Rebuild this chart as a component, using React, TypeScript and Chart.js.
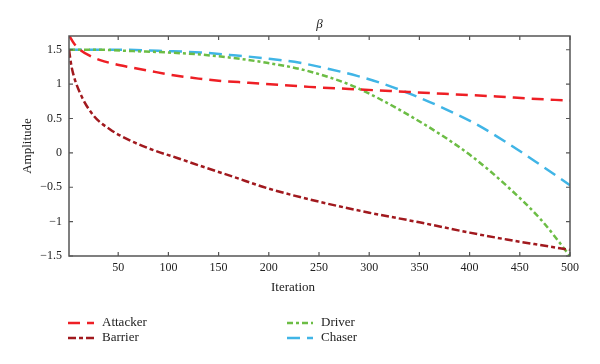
import React, { useEffect, useRef } from "react";
import { Chart, registerables } from "chart.js";

Chart.register(...registerables);

const seriesNames = ["Attacker", "Barrier", "Driver", "Chaser"];

const attackerIter = [1, 6, 12, 22, 32, 44, 60, 82, 105, 130, 150, 180, 210, 240, 280, 321, 360, 387, 427, 460, 500];
const attackerVals = [1.71, 1.59, 1.5, 1.41, 1.35, 1.3, 1.25, 1.19, 1.13, 1.08, 1.05, 1.02, 0.99, 0.96, 0.93, 0.9, 0.87, 0.85, 0.82, 0.79, 0.76];

const barrierIter = [1, 3, 5, 12, 25, 42, 59, 85, 108, 132, 165, 200, 250, 300, 350, 400, 437, 470, 500];
const barrierVals = [1.5, 1.3, 1.16, 0.87, 0.55, 0.34, 0.2, 0.04, -0.07, -0.19, -0.35, -0.52, -0.71, -0.87, -1.01, -1.16, -1.26, -1.34, -1.41];

const driverIter = [1, 30, 65, 100, 132, 165, 198, 231, 260, 281, 311, 344, 375, 404, 437, 471, 500];
const driverVals = [1.5, 1.5, 1.48, 1.46, 1.43, 1.38, 1.31, 1.22, 1.1, 0.99, 0.78, 0.51, 0.23, -0.07, -0.48, -0.97, -1.5];

const chaserIter = [1, 50, 100, 132, 165, 200, 231, 260, 288, 311, 344, 377, 405, 437, 471, 500];
const chaserVals = [1.5, 1.5, 1.48, 1.46, 1.42, 1.37, 1.31, 1.22, 1.12, 1.02, 0.84, 0.63, 0.43, 0.15, -0.18, -0.47];

const xTicks = [50, 100, 150, 200, 250, 300, 350, 400, 450, 500];
const yTicks = [-1.5, -1, -0.5, 0, 0.5, 1, 1.5];

const colors = ["#ee1f25", "#a1191e", "#6cbd45", "#40b5e6"];
const dashes = [[12, 7], [8, 3, 4, 3], [6, 3, 3, 3], [13, 7]];

const FONT = "'Liberation Serif', 'Times New Roman', serif";

function pts(xs: number[], ys: number[]) {
  return xs.map((x, i) => ({ x, y: ys[i] }));
}

const decorPlugin = {
  id: "decor",
  afterDraw(chart: any) {
    const { ctx, chartArea } = chart;
    const { left, right, top, bottom } = chartArea;
    const xs = chart.scales.x;
    const ys = chart.scales.y;
    ctx.save();
    ctx.strokeStyle = "#555";
    ctx.lineWidth = 1.5;
    ctx.strokeRect(left, top, right - left, bottom - top);
    ctx.lineWidth = 1.2;
    const tl = 4;
    ctx.beginPath();
    xTicks.forEach((v) => {
      const px = xs.getPixelForValue(v);
      ctx.moveTo(px, bottom);
      ctx.lineTo(px, bottom - tl);
      ctx.moveTo(px, top);
      ctx.lineTo(px, top + tl);
    });
    yTicks.forEach((v) => {
      const py = ys.getPixelForValue(v);
      ctx.moveTo(left, py);
      ctx.lineTo(left + tl, py);
      ctx.moveTo(right, py);
      ctx.lineTo(right - tl, py);
    });
    ctx.stroke();

    ctx.fillStyle = "#222";
    ctx.textAlign = "center";
    ctx.textBaseline = "middle";
    ctx.font = `italic 13px ${FONT}`;
    ctx.fillText("β", (left + right) / 2, 25);
    ctx.font = `13px ${FONT}`;
    ctx.fillText("Iteration", 293, 288);
    ctx.save();
    ctx.translate(28, (top + bottom) / 2);
    ctx.rotate(-Math.PI / 2);
    ctx.fillText("Amplitude", 0, 0);
    ctx.restore();

    const legendPos = [
      [68, 323],
      [68, 338],
      [287, 323],
      [287, 338],
    ];
    ctx.textAlign = "left";
    seriesNames.forEach((name, i) => {
      const [lx, ly] = legendPos[i];
      ctx.strokeStyle = colors[i];
      ctx.lineWidth = 2.5;
      ctx.setLineDash(dashes[i]);
      ctx.beginPath();
      ctx.moveTo(lx, ly);
      ctx.lineTo(lx + 26, ly);
      ctx.stroke();
      ctx.setLineDash([]);
      ctx.fillStyle = "#222";
      ctx.fillText(name, lx + 34, ly);
    });
    ctx.restore();
  },
};

export default function App() {
  const ref = useRef<HTMLCanvasElement | null>(null);
  useEffect(() => {
    if (!ref.current) return;
    const allIters = [attackerIter, barrierIter, driverIter, chaserIter];
    const allVals = [attackerVals, barrierVals, driverVals, chaserVals];
    const chart = new Chart(ref.current, {
      type: "line",
      data: {
        datasets: seriesNames.map((name, i) => ({
          label: name,
          data: pts(allIters[i], allVals[i]),
          borderColor: colors[i],
          borderWidth: 2.5,
          borderDash: dashes[i],
          pointRadius: 0,
          fill: false,
          cubicInterpolationMode: "monotone" as const,
        })),
      },
      options: {
        responsive: false,
        animation: false,
        layout: { padding: { left: 0, right: 30, top: 36, bottom: 88 } },
        plugins: {
          legend: { display: false },
          title: { display: false },
          tooltip: { enabled: false },
        },
        scales: {
          x: {
            type: "linear",
            min: 1,
            max: 500,
            grid: { display: false, drawTicks: false },
            border: { display: false },
            afterBuildTicks: (s: any) => {
              s.ticks = xTicks.map((v) => ({ value: v }));
            },
            afterFit: (s: any) => {
              s.height = 20;
            },
            ticks: {
              padding: 5,
              maxRotation: 0,
              color: "#222",
              font: { family: FONT, size: 12 },
              callback: (v: any) => String(v),
            },
          },
          y: {
            type: "linear",
            min: -1.5,
            max: 1.7,
            grid: { display: false, drawTicks: false },
            border: { display: false },
            afterBuildTicks: (s: any) => {
              s.ticks = yTicks.map((v) => ({ value: v }));
            },
            afterFit: (s: any) => {
              s.width = 69;
            },
            ticks: {
              padding: 7,
              color: "#222",
              font: { family: FONT, size: 12 },
              callback: (v: any) => (v < 0 ? "\u2212" + String(-v) : String(v)),
            },
          },
        },
      },
      plugins: [decorPlugin],
    });
    return () => chart.destroy();
  }, []);
  return (
    <div style={{ position: "fixed", left: 0, top: 0, width: 600, height: 364, background: "#fff" }}>
      <canvas ref={ref} width={600} height={364} />
    </div>
  );
}
